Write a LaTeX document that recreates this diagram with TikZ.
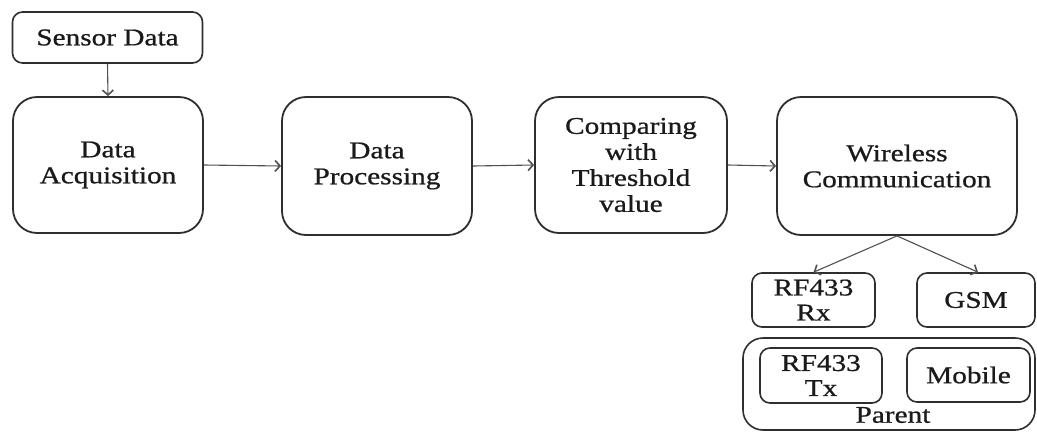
\documentclass[tikz,border=0pt]{standalone}
\usepackage{fontspec}
\setmainfont{Liberation Serif}[FakeStretch=1.22,FakeBold=0.8]
\usetikzlibrary{arrows.meta}
\definecolor{ink}{HTML}{1A1A1A}
\definecolor{edge}{HTML}{2E2E2E}
\definecolor{wire}{HTML}{505050}
\tikzset{
  block/.style={draw=edge, line width=1.8pt, rounded corners=24pt, align=center,
    text=ink, font=\fontsize{24}{26}\selectfont, inner sep=0pt},
  smallblock/.style={draw=edge, line width=1.6pt, rounded corners=10pt, align=center,
    text=ink, font=\fontsize{24}{25}\selectfont, inner sep=0pt},
  conn/.style={draw=wire, line width=1.1pt, -{Straight Barb[length=5pt,width=11pt,line width=1.6pt]}}
}
\begin{document}
\begin{tikzpicture}[x=1pt,y=-1pt]
\useasboundingbox (0,0) rectangle (1037,432);
% source and main processing chain
\node[smallblock, minimum width=190pt, minimum height=51pt] (sensor) at (107.5,37.5) {Sensor Data};
\node[block, minimum width=190pt, minimum height=136pt] (acq) at (108,165) {Data\\Acquisition};
\node[block, minimum width=190pt, minimum height=138pt] (proc) at (377,166) {Data\\Processing};
\node[block, minimum width=192pt, minimum height=136pt] (cmp) at (631,165) {Comparing\\with\\Threshold\\value};
\node[block, minimum width=240pt, minimum height=138pt] (wlc) at (897,166) {Wireless\\Communication};
% communication modules
\node[smallblock, minimum width=123pt, minimum height=54pt] (rx) at (813.5,300) {RF433\\Rx};
\node[smallblock, minimum width=118pt, minimum height=54pt] (gsm) at (976,300) {GSM};
% parent unit
\node[smallblock, rounded corners=20pt, minimum width=292pt, minimum height=92pt] (parent) at (889,384) {};
\node[smallblock, minimum width=122pt, minimum height=55pt] (tx) at (821,375.5) {RF433\\Tx};
\node[smallblock, minimum width=123pt, minimum height=54pt] (mob) at (968.5,375) {Mobile};
\node[text=ink, font=\fontsize{24}{25}\selectfont, inner sep=0pt] (plabel) at (893,415) {Parent};
% connectors
\draw[conn] (sensor.south) -- (acq.north);
\draw[conn] (acq.east) -- (proc.west);
\draw[conn] (proc.east) -- (cmp.west);
\draw[conn] (cmp.east) -- (wlc.west);
\draw[conn] (wlc.south) -- (rx.north);
\draw[conn] (wlc.south) -- ([xshift=2pt]gsm.north);
\end{tikzpicture}
\end{document}
